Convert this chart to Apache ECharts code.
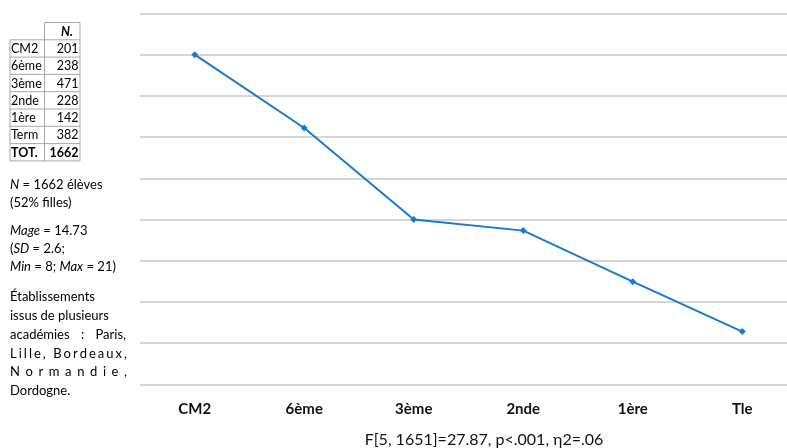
<!DOCTYPE html>
<html>
<head>
<meta charset="utf-8">
<script src="https://cdn.jsdelivr.net/npm/echarts@6/dist/echarts.min.js"></script>
<style>html,body{margin:0;padding:0;background:#fff;overflow:hidden}#c{width:800px;height:448px}</style>
</head>
<body>
<div id="c"></div>
<script>
// ---- data ----
var categories = ['CM2', '6ème', '3ème', '2nde', '1ère', 'Tle'];
var values = [8.0, 6.22, 4.0, 3.73, 2.49, 1.28];
var tableLabels = ['CM2', '6ème', '3ème', '2nde', '1ère', 'Term'];
var tableN = [201, 238, 471, 228, 142, 382];
var tableTotal = 1662;
var statsText = 'F[5, 1651]=27.87, p<.001, η2=.06';

var FONT = 'Lato, "Open Sans", sans-serif';
var graphics = [];

// table
var tL = 10, tS = 44.5, tR = 80, rowTop = 39.8, rowH = 17.3, headTop = 22.5;
var gridColor = '#a8a8a8';
function line(x1, y1, x2, y2) {
  graphics.push({type: 'line', shape: {x1: x1, y1: y1, x2: x2, y2: y2},
    style: {stroke: gridColor, lineWidth: 1}, silent: true});
}
function txt(t, x, y, opts) {
  var s = {text: t, x: x, y: y, fill: '#000', fontFamily: FONT, fontSize: 12.5,
    textVerticalAlign: 'middle', textAlign: 'left'};
  for (var k in opts) s[k] = opts[k];
  graphics.push({type: 'text', style: s, silent: true});
}
var nRows = tableLabels.length + 1;
var tBottom = rowTop + nRows * rowH;
line(tS, headTop, tR, headTop);
line(tS, headTop, tS, tBottom);
line(tR, headTop, tR, tBottom);
line(tL, rowTop, tL, tBottom);
for (var r = 0; r <= nRows; r++) line(tL, rowTop + r * rowH, tR, rowTop + r * rowH);
txt('N.', tR - 7, headTop + rowH / 2 + 1, {textAlign: 'right', fontWeight: 'bold', fontStyle: 'italic'});
for (var i = 0; i < tableLabels.length; i++) {
  var cy = rowTop + i * rowH + rowH / 2 + 0.5;
  txt(tableLabels[i], tL + 1, cy, {});
  txt(String(tableN[i]), tR - 1.5, cy, {textAlign: 'right'});
}
var ty = rowTop + tableLabels.length * rowH + rowH / 2 + 0.5;
txt('TOT.', tL + 1, ty, {fontWeight: 'bold'});
txt(String(tableTotal), tR - 1.5, ty, {textAlign: 'right', fontWeight: 'bold'});

// side notes
var noteFs = 13;
function rich(t, y) {
  graphics.push({type: 'text', silent: true, style: {
    text: t, x: 10, y: y, fill: '#000', fontFamily: FONT, fontSize: noteFs,
    textVerticalAlign: 'middle',
    rich: {i: {fontStyle: 'italic', fontFamily: FONT, fontSize: noteFs, fill: '#000'}}
  }});
}
rich('{i|N} = 1662 élèves', 185);
rich('(52% filles)', 203);
rich('{i|Mage} = 14.73', 231);
rich('({i|SD} = 2.6;', 249);
rich('{i|Min} = 8; {i|Max} = 21)', 267);
rich('Établissements', 297);
rich('issus de plusieurs', 315.8);

var ctx = document.createElement('canvas').getContext('2d');
ctx.font = noteFs + 'px ' + FONT;
function justifyWords(words, y, x0, x1) {
  var total = 0, w = words.map(function (s) { var m = ctx.measureText(s).width; total += m; return m; });
  var gap = (x1 - x0 - total) / (words.length - 1), x = x0;
  for (var i = 0; i < words.length; i++) {
    txt(words[i], x, y, {fontSize: noteFs});
    x += w[i] + gap;
  }
}
function justifyChars(str, y, x0, x1) {
  justifyWords(str.split(''), y, x0, x1);
}
justifyWords(['académies', ':', 'Paris,'], 334.6, 10, 126);
justifyChars('Lille, Bordeaux,', 353.4, 10, 127);
justifyChars('Normandie,', 372.2, 10, 127);
rich('Dordogne.', 391);

// stats text
graphics.push({type: 'text', silent: true, style: {
  text: statsText, x: 484, y: 440, textAlign: 'center', textVerticalAlign: 'middle',
  fill: '#111', fontFamily: FONT, fontSize: 16
}});

var chart = echarts.init(document.getElementById('c'));
chart.setOption({
  animation: false,
  grid: {left: 140, top: 13.5, right: 3, bottom: 63.7, containLabel: false},
  xAxis: {
    type: 'category', data: categories, boundaryGap: true,
    axisLine: {show: false}, axisTick: {show: false},
    axisLabel: {color: '#111', fontFamily: FONT, fontSize: 15, fontWeight: 'bold', margin: 17}
  },
  yAxis: {
    type: 'value', min: 0, max: 9, interval: 1,
    axisLabel: {show: false}, axisLine: {show: false}, axisTick: {show: false},
    splitLine: {lineStyle: {color: '#c9c9c9', width: 1.6}}
  },
  series: [{
    type: 'line', data: values, symbol: 'diamond', symbolSize: 7,
    lineStyle: {color: '#1a7acd', width: 2}, itemStyle: {color: '#1a7acd'}
  }],
  graphic: graphics
});
</script>
</body>
</html>
